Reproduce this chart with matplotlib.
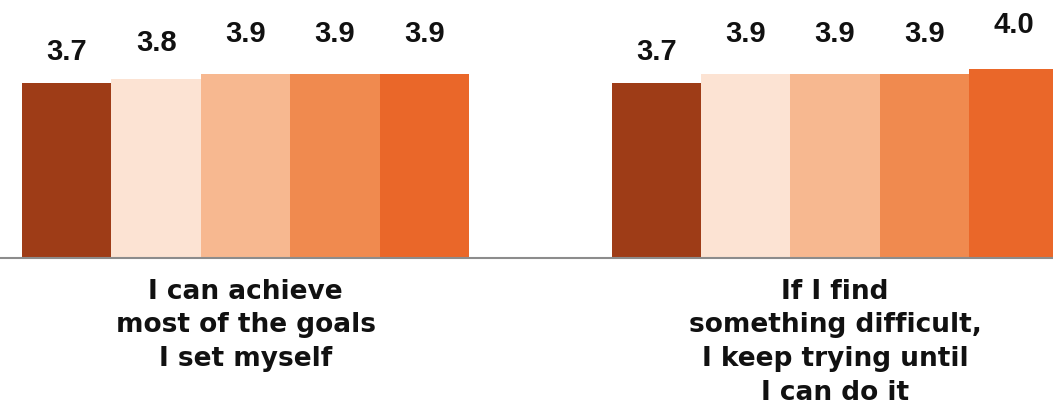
import matplotlib
matplotlib.use("Agg")
import matplotlib.pyplot as plt
from matplotlib import font_manager as fm
import numpy as np

categories = ["I can achieve\nmost of the goals\nI set myself",
              "If I find\nsomething difficult,\nI keep trying until\nI can do it"]
series_values = [
    [3.7, 3.7],
    [3.8, 3.9],
    [3.9, 3.9],
    [3.9, 3.9],
    [3.9, 4.0],
]
colors = ["#9E3C17", "#FCE3D3", "#F7B890", "#F08A4F", "#EA6729"]

val_font = None
for f in fm.findSystemFonts():
    if f.split("/")[-1] == "LiberationSans-Bold.ttf":
        val_font = fm.FontProperties(fname=f, size=21)
        break
if val_font is None:
    val_font = fm.FontProperties(family="DejaVu Sans", weight="bold", size=20)

fig = plt.figure(figsize=(10.53, 4.09), dpi=100)
ax = fig.add_axes([0, 151 / 409, 1, 258 / 409])
# separate scale for the value labels (labels spread more than the bars)
lab = fig.add_axes([0, 151 / 409, 1, 258 / 409], sharex=ax)
lab.set_ylim(1.5, 1.5 + 258 / 90)
lab.axis("off")

x = np.arange(len(categories))
n = len(series_values)
w = 89.4 / 589.5
for i, vals in enumerate(series_values):
    pos = x + (i - (n - 1) / 2) * w
    ax.bar(pos, vals, width=w, color=colors[i], linewidth=0)
    for p, v in zip(pos, vals):
        lab.text(p, v, f"{v:.1f}", ha="center", va="baseline",
                 fontproperties=val_font, color="#111111")

ax.set_xlim(-245.5 / 589.5, (1053 - 245.5) / 589.5)
ax.set_ylim(0, 258 / 47.2)
ax.axis("off")
ax.axhline(0, color="#8c8c8c", linewidth=1.5, clip_on=False)

for xi, cat in zip(x, categories):
    ax.annotate(cat, (xi, 0), xytext=(0, -15), textcoords="offset points",
                ha="center", va="top", fontsize=19, fontweight="bold",
                family="DejaVu Sans", linespacing=1.38, color="#111111",
                annotation_clip=False)

fig.savefig("out.png", dpi=100)
